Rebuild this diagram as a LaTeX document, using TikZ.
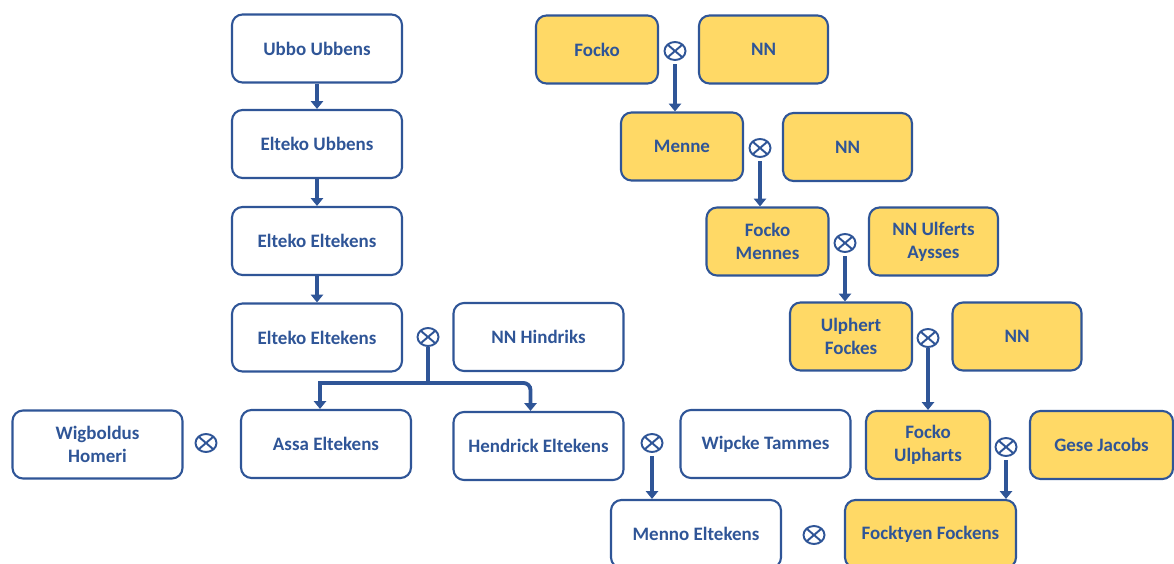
\documentclass[tikz,border=0pt]{standalone}
\usepackage{fontspec}
\setmainfont{Carlito}
\usepackage{xcolor}
\usepackage{tikz}
\usetikzlibrary{arrows.meta}
\usetikzlibrary{shapes.geometric}
\definecolor{famblue}{HTML}{2F5597}
\definecolor{famgold}{HTML}{FFD966}

\begin{document}
\begin{tikzpicture}[x=0.2cm,y=-0.2cm,
    person/.style={draw=famblue,line width=1.2pt,rounded corners=6pt,fill=white,text=famblue,
      font=\bfseries\fontsize{10.8}{13}\selectfont,align=center,
      minimum width=3.4cm,minimum height=1.36cm,inner sep=1pt},
    gold/.style={person,fill=famgold,minimum width=2.44cm},
    marry/.style={ellipse,draw=famblue,line width=1.1pt,minimum width=0.42cm,minimum height=0.36cm,inner sep=0pt,
      path picture={\draw[famblue,line width=1.1pt]
        (path picture bounding box.north west) -- (path picture bounding box.south east)
        (path picture bounding box.north east) -- (path picture bounding box.south west);}},
    descent/.style={draw=famblue,line width=2.2pt,-{Triangle[length=4.5pt,width=7pt]}}]
    \clip (0,0) rectangle (117.4,56.4);
    % Eltekens line
    \node[person] (ubbo) at (31.7,4.85) {Ubbo Ubbens};
    \node[person] (eltekoU) at (31.7,14.4) {Elteko Ubbens};
    \node[person] (eltekoA) at (31.7,24.1) {Elteko Eltekens};
    \node[person] (eltekoB) at (31.7,33.75) {Elteko Eltekens};
    \node[marry] (mHindriks) at (42.8,33.7) {};
    \node[person] (hindriks) at (53.85,33.7) {NN Hindriks};
    \node[person] (wigboldus) at (9.75,44.45) {Wigboldus\\Homeri};
    \node[marry] (mAssa) at (20.6,44.3) {};
    \node[person] (assa) at (32.6,44.4) {Assa Eltekens};
    \node[person] (hendrick) at (53.85,44.6) {Hendrick Eltekens};
    \node[marry] (mWipcke) at (65.2,44.3) {};
    \node[person] (wipcke) at (76.55,44.4) {Wipcke Tammes};
    \node[person] (menno) at (69.6,53.4) {Menno Eltekens};
    \node[marry] (mMenno) at (81.4,53.5) {};
    % Fockens line
    \node[gold] (focko) at (59.7,4.95) {Focko};
    \node[marry] (mFocko) at (67.5,5.1) {};
    \node[gold,minimum width=2.58cm] (nnA) at (76.35,4.95) {NN};
    \node[gold] (menne) at (68.2,14.65) {Menne};
    \node[marry] (mMenne) at (76.0,14.8) {};
    \node[gold,minimum width=2.58cm] (nnB) at (84.75,14.7) {NN};
    \node[gold] (fockoM) at (76.75,24.15) {Focko\\Mennes};
    \node[marry] (mFockoM) at (84.5,24.3) {};
    \node[gold,minimum width=2.58cm] (ulferts) at (93.35,24.15) {NN Ulferts\\Aysses};
    \node[gold] (ulphert) at (85.1,33.65) {Ulphert\\Fockes};
    \node[marry] (mUlphert) at (92.8,33.8) {};
    \node[gold,minimum width=2.58cm] (nnC) at (101.7,33.65) {NN};
    \node[gold,minimum width=2.48cm] (fockoU) at (92.8,44.5) {Focko\\Ulpharts};
    \node[marry] (mFockoU) at (100.6,44.7) {};
    \node[gold,minimum width=2.86cm] (gese) at (110.15,44.5) {Gese Jacobs};
    \node[gold,minimum width=3.42cm] (focktyen) at (93.05,53.4) {Focktyen Fockens};
    % descent arrows
    \draw[descent] (ubbo.south) -- (eltekoU.north);
    \draw[descent] (eltekoU.south) -- (eltekoA.north);
    \draw[descent] (eltekoA.south) -- (eltekoB.north);
    \coordinate (fork) at (42.8,38.3);
    \draw[descent] (mHindriks.south) -- (fork) -| ([xshift=-0.12cm]assa.north);
    \draw[descent,rounded corners=4pt] (fork) -| ([xshift=-0.16cm]hendrick.north);
    \draw[descent] ([yshift=-2pt]mWipcke.south) -- (mWipcke.south |- menno.north);
    \draw[descent] ([yshift=-2pt]mFocko.south) -- (mFocko.south |- menne.north);
    \draw[descent] ([yshift=-2pt]mMenne.south) -- (mMenne.south |- fockoM.north);
    \draw[descent] ([yshift=-2pt]mFockoM.south) -- (mFockoM.south |- ulphert.north);
    \draw[descent] (mUlphert.south) -- (mUlphert.south |- fockoU.north);
    \draw[descent] ([yshift=-2pt]mFockoU.south) -- (mFockoU.south |- focktyen.north);
\end{tikzpicture}
\end{document}
